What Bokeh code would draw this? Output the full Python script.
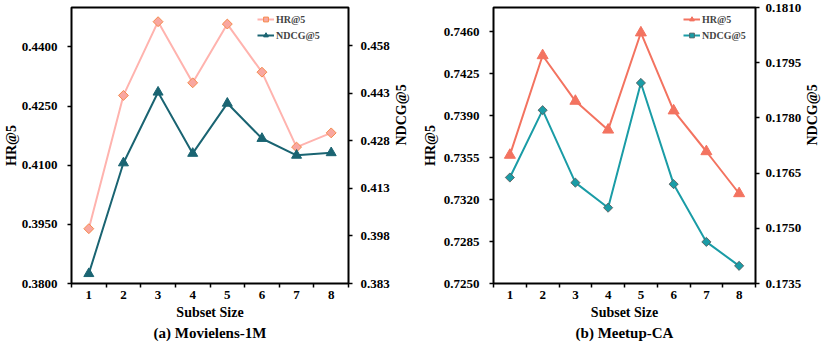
import math
from bokeh.plotting import figure
from bokeh.models import (Range1d, LinearAxis, FixedTicker, NumeralTickFormatter,
                          Title, Legend, LegendItem)
from bokeh.layouts import row
from bokeh.embed import file_html
from bokeh.resources import INLINE

# ---------------- data ----------------
subset_sizes = [1, 2, 3, 4, 5, 6, 7, 8]

ml_hr = [0.3939, 0.4277, 0.4464, 0.4309, 0.4458, 0.4336, 0.4146, 0.4182]
ml_ndcg = [0.3861, 0.4210, 0.4433, 0.4240, 0.4398, 0.4287, 0.4234, 0.4242]

mc_hr = [0.7357, 0.7440, 0.7402, 0.7378, 0.7459, 0.7394, 0.7360, 0.7325]
mc_ndcg = [0.17638, 0.17821, 0.17624, 0.17556, 0.17895, 0.17620, 0.17463, 0.17398]

ml_hr_ticks = [0.3800, 0.3950, 0.4100, 0.4250, 0.4400]
ml_ndcg_ticks = [0.383, 0.398, 0.413, 0.428, 0.443, 0.458]
mc_hr_ticks = [0.7250, 0.7285, 0.7320, 0.7355, 0.7390, 0.7425, 0.7460]
mc_ndcg_ticks = [0.1735, 0.1750, 0.1765, 0.1780, 0.1795, 0.1810]

x_boundaries = [0.5, 1.5, 2.5, 3.5, 4.5, 5.5, 6.5, 7.5, 8.5]

FONT = "'Liberation Serif', 'Times New Roman', serif"
H = 345


def style_axis(ax, fmt):
    ax.axis_line_color = None
    ax.major_label_text_font = FONT
    ax.major_label_text_font_style = "bold"
    ax.major_label_text_font_size = "13px"
    ax.major_label_text_color = "black"
    ax.axis_label_text_font = FONT
    ax.axis_label_text_font_style = "bold"
    ax.axis_label_text_font_size = "14px"
    ax.axis_label_text_color = "black"
    ax.major_tick_line_color = "black"
    ax.major_tick_line_width = 1.5
    ax.minor_tick_line_color = None
    if fmt:
        ax.formatter = NumeralTickFormatter(format=fmt)


def make_panel(width, mb_left, mb_right, y_rng, y2_rng, y_ticks, y2_ticks,
               y_fmt, y2_fmt, caption, legend_x, left_std, left_lab_std,
               right_std, right_lab_std, draw):
    p = figure(width=width, height=H, output_backend="svg", toolbar_location=None,
               x_range=Range1d(0.5, 8.5), y_range=Range1d(*y_rng),
               min_border_left=mb_left, min_border_right=mb_right,
               min_border_top=7, min_border_bottom=62)
    p.extra_y_ranges = {"r": Range1d(*y2_rng)}
    p.xgrid.visible = False
    p.ygrid.visible = False
    p.outline_line_color = "black"
    p.outline_line_width = 2
    p.background_fill_color = "white"
    p.border_fill_color = "white"

    # x axis
    xa = p.xaxis[0]
    style_axis(xa, None)
    xa.ticker = FixedTicker(ticks=subset_sizes, minor_ticks=x_boundaries)
    xa.major_tick_out = 0
    xa.major_tick_in = 0
    xa.minor_tick_line_color = "black"
    xa.minor_tick_line_width = 1.5
    xa.minor_tick_out = 4
    xa.minor_tick_in = 0
    xa.major_label_standoff = 3
    xa.axis_label = "Subset Size"
    xa.axis_label_standoff = 3

    # left y axis
    ya = p.yaxis[0]
    style_axis(ya, y_fmt)
    ya.ticker = FixedTicker(ticks=y_ticks)
    ya.major_tick_out = 4
    ya.major_tick_in = 0
    ya.major_label_standoff = left_std
    ya.axis_label = "HR@5"
    ya.axis_label_standoff = left_lab_std

    # right y axis
    ra = LinearAxis(y_range_name="r")
    style_axis(ra, y2_fmt)
    ra.ticker = FixedTicker(ticks=y2_ticks)
    ra.major_tick_out = 4
    ra.major_tick_in = 0
    ra.major_label_standoff = right_std
    ra.axis_label = "NDCG@5"
    ra.axis_label_standoff = right_lab_std
    try:
        ra.axis_label_orientation = math.pi / 2
    except Exception:
        pass
    p.add_layout(ra, "right")

    items = draw(p)

    legend = Legend(items=items, location=(legend_x, 242), margin=0, padding=2,
                    spacing=4, glyph_width=17, glyph_height=12, label_height=12,
                    label_standoff=2, label_text_font=FONT,
                    label_text_font_style="bold", label_text_font_size="10px",
                    background_fill_alpha=0, border_line_color=None)
    p.add_layout(legend)

    cap = Title(text=caption, align="center", text_font=FONT, text_font_style="bold",
                text_font_size="15px", text_color="black", standoff=0)
    p.add_layout(cap, "below")
    return p


def draw_ml(p):
    l1 = p.line(subset_sizes, ml_hr, line_color="#FFB3AE", line_width=2)
    s1 = p.scatter(subset_sizes, ml_hr, marker="square", angle=0.785398, size=7,
                   fill_color="#F9A7A0", line_color="#F58A4C", line_width=1)
    l2 = p.line(subset_sizes, ml_ndcg, line_color="#1A6472", line_width=2, y_range_name="r")
    s2 = p.scatter(subset_sizes, ml_ndcg, marker="triangle", size=10,
                   fill_color="#1A6472", line_color="#1A6472", y_range_name="r")
    return [LegendItem(label="HR@5", renderers=[l1, s1]),
            LegendItem(label="NDCG@5", renderers=[l2, s2])]


def draw_mc(p):
    l1 = p.line(subset_sizes, mc_hr, line_color="#F37360", line_width=2)
    s1 = p.scatter(subset_sizes, mc_hr, marker="triangle", size=11,
                   fill_color="#F37360", line_color="#F37360")
    l2 = p.line(subset_sizes, mc_ndcg, line_color="#1A9CA6", line_width=2, y_range_name="r")
    s2 = p.scatter(subset_sizes, mc_ndcg, marker="square", angle=0.785398, size=6.5,
                   fill_color="#1A9CA6", line_color="#555555", line_width=0.8,
                   y_range_name="r")
    return [LegendItem(label="HR@5", renderers=[l1, s1]),
            LegendItem(label="NDCG@5", renderers=[l2, s2])]


p1 = make_panel(419, 69, 64, (0.38, 0.45), (0.383, 0.47), ml_hr_ticks, ml_ndcg_ticks,
                "0.0000", "0.000", "(a) Movielens-1M", 186, 10, 0, 8, 9, draw_ml)
p2 = make_panel(411, 72, 66, (0.725, 0.748), (0.1735, 0.181), mc_hr_ticks, mc_ndcg_ticks,
                "0.0000", "0.0000", "(b) Meetup-CA", 190, 10, 3, 6, 8, draw_mc)

layout = row(p1, p2)
open("out.html", "w").write(file_html(layout, INLINE))
